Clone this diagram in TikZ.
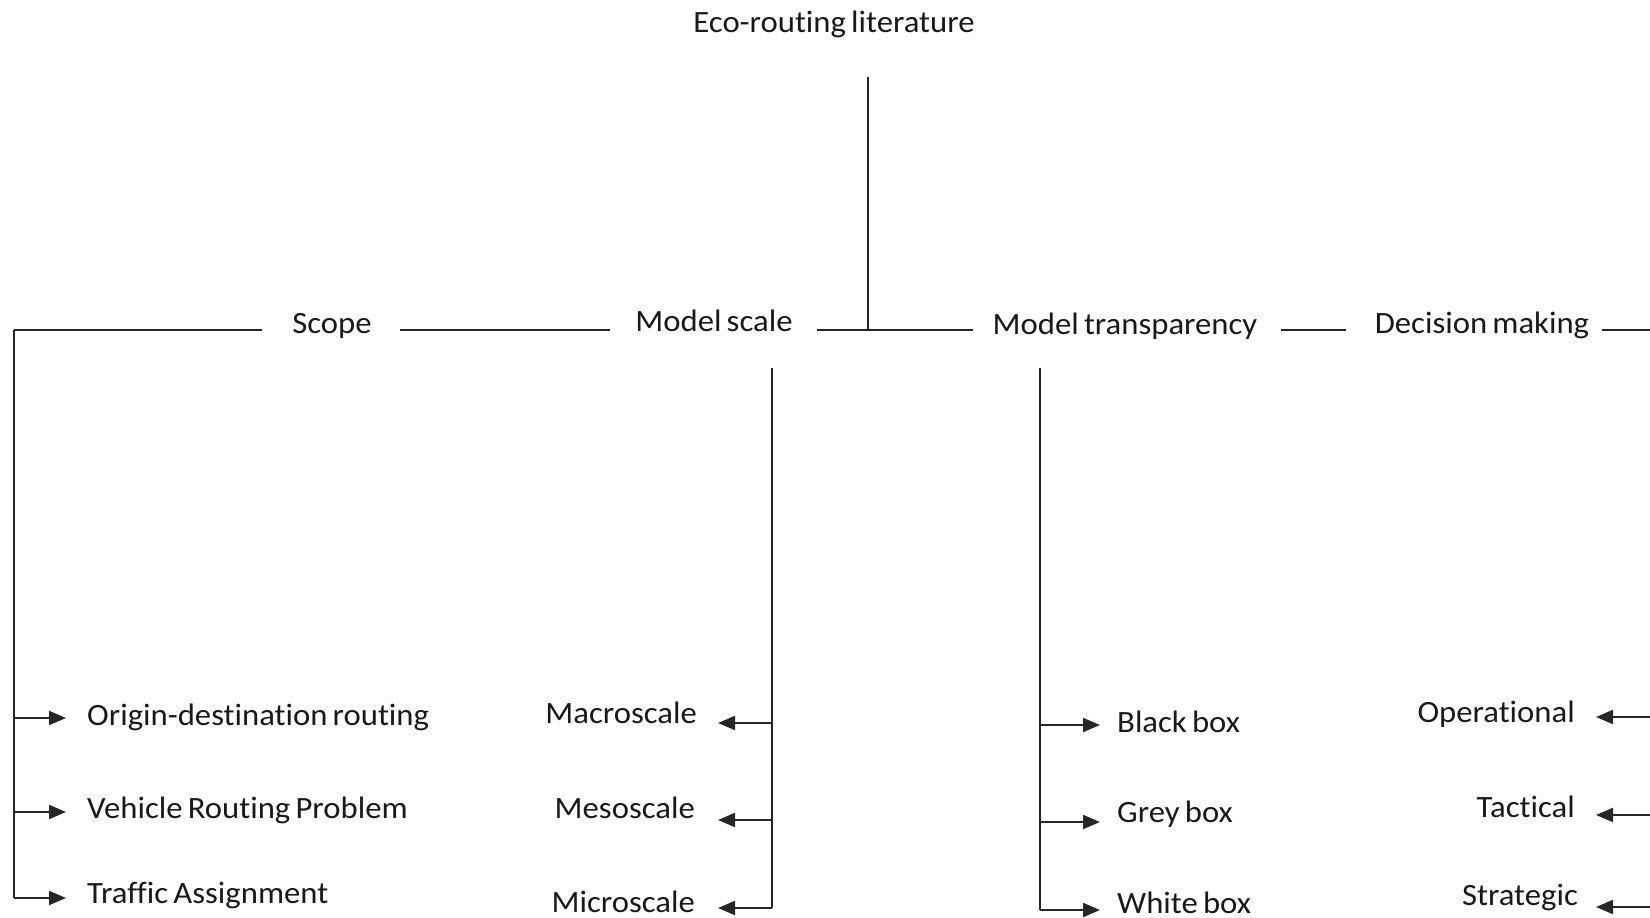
\documentclass[tikz,border=0pt]{standalone}
\usepackage{fontspec}
\setmainfont[Ligatures=NoCommon,FakeStretch=1.055,WordSpace=0.7]{Carlito}
\usetikzlibrary{arrows.meta}
\begin{document}
\begin{tikzpicture}[x=1pt,y=-1pt,
  lbl/.style={inner sep=0pt,font=\fontsize{31}{36}\selectfont,text=black!90},
  ln/.style={draw=black!85,line width=2pt},
  arr/.style={ln,-{Triangle[length=17pt,width=14pt]}}]
\useasboundingbox (0,0) rectangle (1650,918);
% texts
\node[lbl,anchor=base] (title) at (834,32) {Eco-routing literature};
\node[lbl,anchor=base] (scope) at (332,333) {Scope};
\node[lbl,anchor=base] (mscale) at (714,331) {Model scale};
\node[lbl,anchor=base] (mtrans) at (1125,334) {Model transparency};
\node[lbl,anchor=base] (dec) at (1482,333) {Decision making};
\node[lbl,anchor=base west] (od) at (87,725) {Origin-destination routing};
\node[lbl,anchor=base west] (vrp) at (87,818) {Vehicle Routing Problem};
\node[lbl,anchor=base west] (ta) at (87,903) {Traffic Assignment};
\node[lbl,anchor=base east] (macro) at (697,723) {Macroscale};
\node[lbl,anchor=base east] (meso) at (695,818) {Mesoscale};
\node[lbl,anchor=base east] (micro) at (695,912) {Microscale};
\node[lbl,anchor=base west] (black) at (1117,732) {Black box};
\node[lbl,anchor=base west] (grey) at (1117,822) {Grey box};
\node[lbl,anchor=base west] (white) at (1117,913) {White box};
\node[lbl,anchor=base east] (oper) at (1575,722) {Operational};
\node[lbl,anchor=base east] (tact) at (1575,817) {Tactical};
\node[lbl,anchor=base east] (strat) at (1578,905) {Strategic};
% junction coordinates
\coordinate (ttop) at (868,77);
\coordinate (tjun) at (868,330);
\coordinate (lc) at (14,330);
\coordinate (s1) at (262,330);
\coordinate (s2) at (400,330);
\coordinate (s3) at (610,330);
\coordinate (s4) at (817,330);
\coordinate (s5) at (973,330);
\coordinate (s6) at (1281,330);
\coordinate (s7) at (1346,330);
\coordinate (s8) at (1602,330);
\coordinate (s9) at (1650,330);
% main tree lines
\draw[ln] (ttop) -- (tjun);
\draw[ln] (lc) -- (s1);
\draw[ln] (s2) -- (s3);
\draw[ln] (s4) -- (s5);
\draw[ln] (s6) -- (s7);
\draw[ln] (s8) -- (s9);
% scope branch
\coordinate (a1) at (14,718); \coordinate (a1t) at (66,718);
\coordinate (a2) at (14,812); \coordinate (a2t) at (66,812);
\coordinate (a3) at (14,898); \coordinate (a3t) at (66,898);
\draw[ln] (lc) -- (a3);
\draw[arr] (a1) -- (a1t);
\draw[arr] (a2) -- (a2t);
\draw[arr] (a3) -- (a3t);
% model scale branch
\coordinate (mtop) at (772,368);
\coordinate (b1) at (772,723); \coordinate (b1t) at (718,723);
\coordinate (b2) at (772,820); \coordinate (b2t) at (718,820);
\coordinate (b3) at (772,908); \coordinate (b3t) at (718,908);
\draw[ln] (mtop) -- (b3);
\draw[arr] (b1) -- (b1t);
\draw[arr] (b2) -- (b2t);
\draw[arr] (b3) -- (b3t);
% model transparency branch
\coordinate (ttop2) at (1040,368);
\coordinate (c1) at (1040,725); \coordinate (c1t) at (1100,725);
\coordinate (c2) at (1040,822); \coordinate (c2t) at (1100,822);
\coordinate (c3) at (1040,910); \coordinate (c3t) at (1100,910);
\draw[ln] (ttop2) -- (c3);
\draw[arr] (c1) -- (c1t);
\draw[arr] (c2) -- (c2t);
\draw[arr] (c3) -- (c3t);
% decision making branch (bus off the right edge)
\coordinate (d1) at (1650,717); \coordinate (d1t) at (1596,717);
\coordinate (d2) at (1650,815); \coordinate (d2t) at (1596,815);
\coordinate (d3) at (1650,907); \coordinate (d3t) at (1596,907);
\draw[arr] (d1) -- (d1t);
\draw[arr] (d2) -- (d2t);
\draw[arr] (d3) -- (d3t);
\end{tikzpicture}
\end{document}
